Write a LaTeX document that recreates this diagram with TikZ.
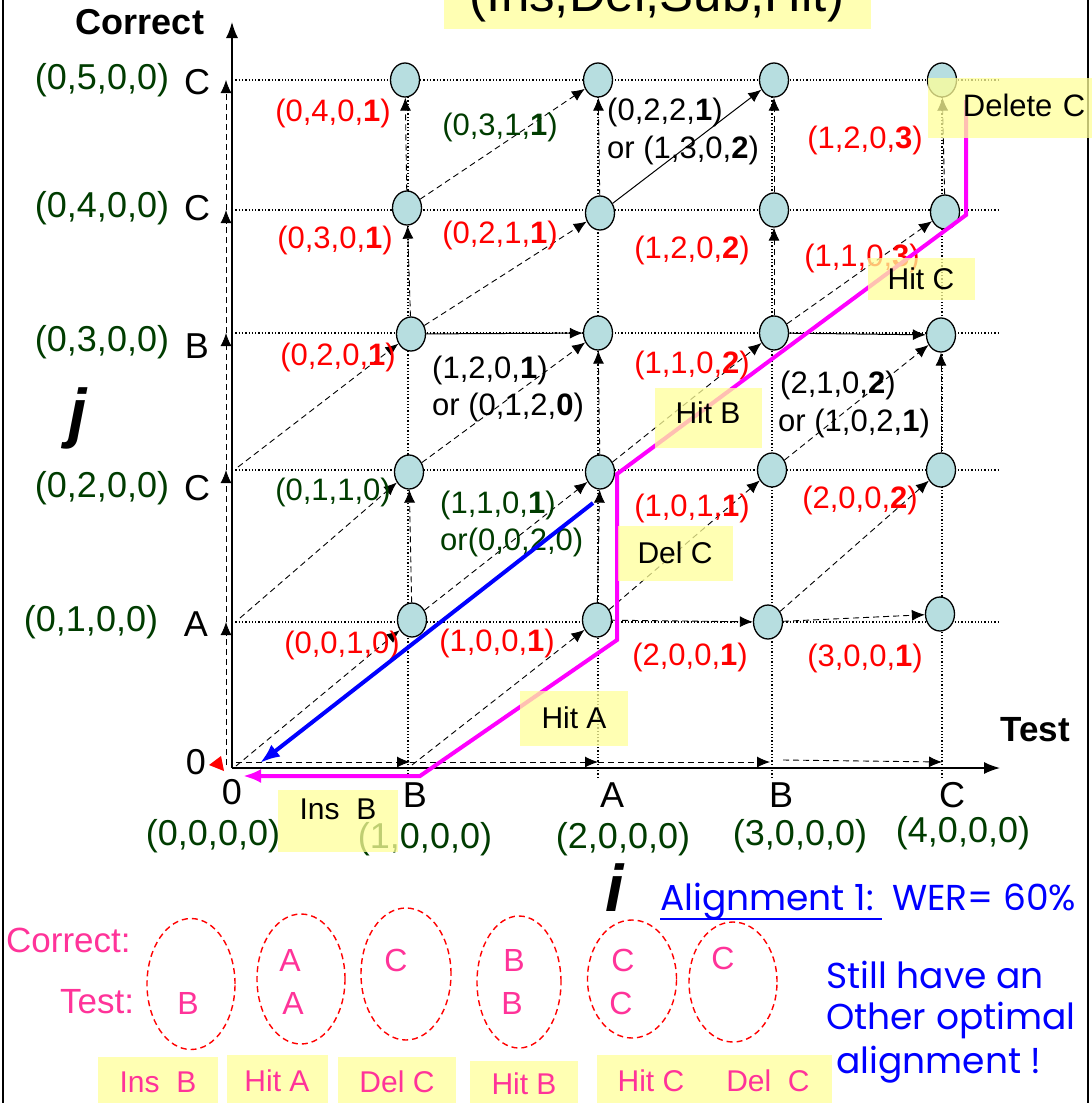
\documentclass[tikz,border=0pt]{standalone}
\usepackage{fontspec}
\setmainfont{Liberation Sans}
\newfontfamily\comicf{Poppins}
\usetikzlibrary{arrows.meta,shapes.geometric}
\definecolor{nodeblue}{RGB}{183,222,224}
\definecolor{dgreen}{RGB}{0,60,0}
\definecolor{boxy}{RGB}{255,255,153}
\definecolor{pinkt}{RGB}{255,51,153}
\definecolor{magp}{RGB}{255,0,255}
\newcommand\fsCell{\fontsize{31}{35}\selectfont}
\newcommand\fsAx{\fontsize{36}{40}\selectfont}
\newcommand\fsBox{\fontsize{30}{34}\selectfont}
\begin{document}
\begin{tikzpicture}[x=1pt,y=-1pt,
  gridl/.style={dotted, line width=1.3pt},
  darr/.style={dash pattern=on 6pt off 4pt, line width=0.9pt, -{Latex[length=13pt,width=11pt]}},
  sarr/.style={line width=1pt, -{Latex[length=13pt,width=11pt]}},
  st/.style={ellipse, draw, line width=1.3pt, fill=nodeblue, minimum width=29pt, minimum height=34pt, inner sep=0pt},
  cell/.style={font=\fsCell, inner sep=0pt},
  axl/.style={font=\fsAx, inner sep=0pt},
  ybox/.style={fill=boxy, fill opacity=0.75, text opacity=1, inner sep=0pt, font=\fsBox},
  pk/.style={font=\fontsize{32}{36}\selectfont, text=pinkt, inner sep=0pt},
  oval/.style={ellipse, draw=red, dash pattern=on 6pt off 4pt, line width=1.4pt, inner sep=0pt},
  bl/.style={font=\comicf\fontsize{36}{40}\selectfont, text=blue, inner sep=0pt}
]
\useasboundingbox (0,0) rectangle (1092,1103);
\clip (0,0) rectangle (1092,1103);
% frame lines
\draw[line width=1.5pt] (3,-5) -- (3,1110);
\draw[line width=1.5pt] (1088,-5) -- (1088,1110);

% title
\node[ybox, font=\fontsize{51}{55}\selectfont, minimum width=427pt, minimum height=62pt] (title) at (657,-2) {(Ins,Del,Sub,Hit)};

% axes coordinates
\coordinate (O) at (232,768);
\coordinate (ytop) at (232,22);
\coordinate (xend) at (1000,768);
\foreach \n/\y in {0/765,1/622,2/470,3/333,4/210,5/80} {\coordinate (v\n) at (226,\y);}
\foreach \n/\x in {0/236,1/410,2/598,3/770,4/942} {\coordinate (h\n) at (\x,762);}
\coordinate (h3b) at (783,760);
\coordinate (o) at (236,766);
\coordinate (y1) at (240,618);
\coordinate (y2) at (238,467);
\coordinate (x1) at (412,765);

% grid
\foreach \y in {80,210,333,470,622} {\draw[gridl] (232,\y) -- (1000,\y);}
\foreach \x in {408,598,772,942} {\draw[gridl] (\x,778) -- (\x,80);}

% axes
\draw[line width=1.5pt, -{Latex[length=16pt,width=12pt]}] (O) -- (ytop);
\draw[line width=1.5pt, -{Latex[length=16pt,width=12pt]}] (O) -- (xend);
\fill[red] (209,765) -- (221,756) -- (224,771) -- cycle;

% nodes
\node[st] (n15) at (405,80) {};
\node[st] (n25) at (598,80) {};
\node[st] (n35) at (774,80) {};
\node[st] (n45) at (942,80) {};
\node[st] (n14) at (407,208) {};
\node[st] (n24) at (600,213) {};
\node[st] (n34) at (774,210) {};
\node[st] (n44) at (945,212) {};
\node[st] (n13) at (411,334) {};
\node[st] (n23) at (598,333) {};
\node[st] (n33) at (774,333) {};
\node[st] (n43) at (941,335) {};
\node[st] (n12) at (409,472) {};
\node[st] (n22) at (600,472) {};
\node[st] (n32) at (772,470) {};
\node[st] (n42) at (941,470) {};
\node[st] (n11) at (412,620) {};
\node[st] (n21) at (597,620) {};
\node[st] (n31) at (768,622) {};
\node[st] (n41) at (940,614) {};

% y-axis dashed arrows
\draw[darr] (v0) -- (v1);
\draw[darr] (v1) -- (v2);
\draw[darr] (v2) -- (v3);
\draw[darr] (v3) -- (v4);
\draw[darr] (v4) -- (v5);
% x-axis dashed arrows
\draw[darr] (h0) -- (h1);
\draw[darr] (h1) -- (h2);
\draw[darr] (h2) -- (h3);
\draw[darr] (h3b) -- (h4);
% diagonals
\draw[darr] (o) -- (n11);
\draw[darr] (y1) -- (n12);
\draw[darr] (y2) -- (n13);
\draw[darr] (x1) -- (n21);
\draw[darr] (n11) -- (n22);
\draw[darr] (n12) -- (n23);
\draw[darr] (n13) -- (n24);
\draw[darr] (n14) -- (n25);
\draw[darr] (n21) -- (n32);
\draw[darr] (n22) -- (n33);
\draw[darr] (n31) -- (n42);
\draw[darr] (n32) -- (n43);
\draw[darr] (n33) -- (n44);
\draw[sarr] (n24) -- (n35);
% horizontals
\draw[sarr] (n13) -- (n23);
\draw[sarr] (n33) -- (n43);
\draw[darr] (n21) -- (n31);
\draw[darr] (n31) -- (n41);
% verticals
\draw[darr] (n14) -- (n15);
\draw[darr] (n13) -- (n14);
\draw[darr] (n11) -- (n12);
\draw[darr] (n24) -- (n25);
\draw[darr] (n22) -- (n23);
\draw[darr] (n21) -- (n22);
\draw[darr] (n34) -- (n35);
\draw[darr] (n33) -- (n34);
\draw[darr] (n44) -- (n45);
\draw[darr] (n42) -- (n43);

% axis labels
\node[axl, text=dgreen] (l5) at (102,80) {(0,5,0,0)};
\node[axl] (c5) at (197,82) {C};
\node[axl, text=dgreen] (l4) at (102,208) {(0,4,0,0)};
\node[axl] (c4) at (197,208) {C};
\node[axl, text=dgreen] (l3) at (102,342) {(0,3,0,0)};
\node[axl] (c3) at (197,346) {B};
\node[axl, text=dgreen] (l2) at (102,488) {(0,2,0,0)};
\node[axl] (c2) at (197,488) {C};
\node[axl, text=dgreen] (l1) at (91,622) {(0,1,0,0)};
\node[axl] (c1) at (196,624) {A};
\node[axl] (c0) at (196,762) {0};
\node[axl] (t0) at (232,792) {0};
\node[axl] (t1) at (415,795) {B};
\node[axl] (t2) at (612,795) {A};
\node[axl] (t3) at (781,795) {B};
\node[axl] (t4) at (952,795) {C};
\node[axl, text=dgreen] (g0) at (213,836) {(0,0,0,0)};
\node[axl, text=dgreen] (g1) at (425,839) {(1,0,0,0)};
\node[axl, text=dgreen] (g2) at (623,839) {(2,0,0,0)};
\node[axl, text=dgreen] (g3) at (800,836) {(3,0,0,0)};
\node[axl, text=dgreen] (g4) at (963,833) {(4,0,0,0)};
\node[font=\bfseries\fontsize{36}{40}\selectfont, inner sep=0pt] (corr) at (140,22) {Correct};
\node[font=\bfseries\fontsize{35}{38}\selectfont, inner sep=0pt] (test) at (1035,730) {Test};
\node[font=\bfseries\itshape\fontsize{66}{70}\selectfont, inner sep=0pt] (jl) at (78,418) {j};
\node[font=\bfseries\itshape\fontsize{66}{70}\selectfont, inner sep=0pt] (il) at (615,888) {i};

% cell labels
\node[cell, text=red] (a1) at (333,113) {(0,4,0,\textbf{1})};
\node[cell, text=dgreen] (a2) at (500,127) {(0,3,1,\textbf{1})};
\node[cell, anchor=west] (a3) at (607,112) {(0,2,2,\textbf{1})};
\node[cell, anchor=west] (a3b) at (607,150) {or (1,3,0,\textbf{2})};
\node[cell, text=red] (a4) at (865,140) {(1,2,0,\textbf{3})};
\node[cell, text=red] (b1) at (335,240) {(0,3,0,\textbf{1})};
\node[cell, text=red] (b2) at (500,235) {(0,2,1,\textbf{1})};
\node[cell, text=red] (b3) at (692,250) {(1,2,0,\textbf{2})};
\node[cell, text=red] (b4) at (862,258) {(1,1,0,\textbf{3})};
\node[cell, text=red] (d1) at (338,357) {(0,2,0,\textbf{1})};
\node[cell, anchor=west] (d2) at (432,370) {(1,2,0,\textbf{1})};
\node[cell, anchor=west] (d2b) at (432,407) {or (0,1,2,\textbf{0})};
\node[cell, text=red] (d3) at (692,365) {(1,1,0,\textbf{2})};
\node[cell, anchor=west] (d4) at (780,385) {(2,1,0,\textbf{2})};
\node[cell, anchor=west] (d4b) at (778,423) {or (1,0,2,\textbf{1})};
\node[cell, text=dgreen] (e1) at (333,492) {(0,1,1,0)};
\node[cell, text=dgreen, anchor=west] (e2) at (440,505) {(1,1,0,\textbf{1})};
\node[cell, text=dgreen, anchor=west] (e2b) at (440,542) {or(0,0,2,0)};
\node[cell, text=red] (e3) at (692,508) {(1,0,1,\textbf{1})};
\node[cell, text=red] (e4) at (860,500) {(2,0,0,\textbf{2})};
\node[cell, text=red] (f1) at (342,645) {(0,0,1,0)};
\node[cell, text=red] (f2) at (497,643) {(1,0,0,\textbf{1})};
\node[cell, text=red] (f3) at (690,657) {(2,0,0,\textbf{1})};
\node[cell, text=red] (f4) at (865,658) {(3,0,0,\textbf{1})};

% magenta path
\coordinate (m0) at (966,100);
\coordinate (m1) at (966,215);
\coordinate (m2) at (617,474);
\coordinate (m3) at (617,640);
\coordinate (m4) at (420,776);
\coordinate (m5) at (243,776);
\draw[magp, line width=4pt, line join=miter, -{Latex[length=18pt,width=14pt]}] (m0) -- (m1) -- (m2) -- (m3) -- (m4) -- (m5);
% blue path
\coordinate (bs) at (593,503);
\coordinate (be) at (260,763);
\draw[blue, line width=4pt, -{Latex[length=20pt,width=15pt]}] (bs) -- (be);

% yellow boxes
\node[ybox, font=\fontsize{31}{35}\selectfont, anchor=north west, minimum width=164pt, text height=38pt, text depth=22pt, text width=150pt, inner xsep=7pt, align=right] (bx1) at (928,78) {Delete C};
\node[ybox, minimum width=107pt, minimum height=42pt] (bx2) at (921,279) {Hit C};
\node[ybox, anchor=north, minimum width=107pt, text height=35pt, text depth=25pt] (bx3) at (708,388) {Hit B};
\node[ybox, minimum width=115pt, minimum height=55pt] (bx4) at (675,553) {Del C};
\node[ybox, minimum width=108pt, minimum height=55pt] (bx5) at (574,718) {Hit A};
\node[ybox, anchor=north, minimum width=120pt, text height=29pt, text depth=33pt] (bx6) at (338,790) {Ins\ \ B};

% bottom part
\node[bl, anchor=base west] (al1) at (660,910) {Alignment 1:\hspace*{8pt}};
\node[bl, anchor=base west, xshift=10pt] (al2) at (al1.base east) {WER= 60\%};
\draw[blue, line width=1.8pt] ([yshift=-9pt]al1.base west) -- ([yshift=-9pt]al1.base east);
\node[bl, anchor=west] (s1) at (826,975) {Still have an};
\node[bl, anchor=west] (s2) at (826,1020) {Other optimal};
\node[bl, anchor=west] (s3) at (836,1065) {alignment !};

\node[pk, anchor=west, font=\fontsize{35}{38}\selectfont] (pc) at (6,940) {Correct:};
\node[pk, anchor=west, font=\fontsize{35}{38}\selectfont] (pt) at (60,1002) {Test:};

\node[oval, minimum width=88pt, minimum height=131pt] (e_1) at (191,984) {};
\node[oval, minimum width=88pt, minimum height=130pt] (e_2) at (301,979) {};
\node[oval, minimum width=90pt, minimum height=132pt] (e_3) at (406,974) {};
\node[oval, minimum width=84pt, minimum height=132pt] (e_4) at (519,982) {};
\node[oval, minimum width=89pt, minimum height=118pt] (e_5) at (632,979) {};
\node[oval, minimum width=88pt, minimum height=120pt] (e_6) at (733,982) {};

\node[pk] (q1) at (188,1003) {B};
\node[pk] (q2) at (290,960) {A};
\node[pk] (q3) at (293,1003) {A};
\node[pk] (q4) at (396,960) {C};
\node[pk] (q5) at (514,960) {B};
\node[pk] (q6) at (512,1003) {B};
\node[pk] (q7) at (623,960) {C};
\node[pk] (q8) at (621,1003) {C};
\node[pk] (q9) at (723,958) {C};

\node[ybox, text=pinkt, minimum width=120pt, minimum height=50pt] (k1) at (158,1082) {Ins\ \ B};
\node[ybox, text=pinkt, minimum width=101pt, minimum height=52pt] (k2) at (277,1081) {Hit A};
\node[ybox, text=pinkt, minimum width=118pt, minimum height=50pt] (k3) at (397,1082) {Del C};
\node[ybox, text=pinkt, minimum width=108pt, minimum height=46pt] (k4) at (524,1084) {Hit B};
\node[ybox, text=pinkt, minimum width=108pt, minimum height=52pt] (k5) at (651,1081) {Hit C};
\node[ybox, text=pinkt, minimum width=127pt, minimum height=52pt] (k6) at (768,1081) {Del\ \ C};
\end{tikzpicture}
\end{document}
